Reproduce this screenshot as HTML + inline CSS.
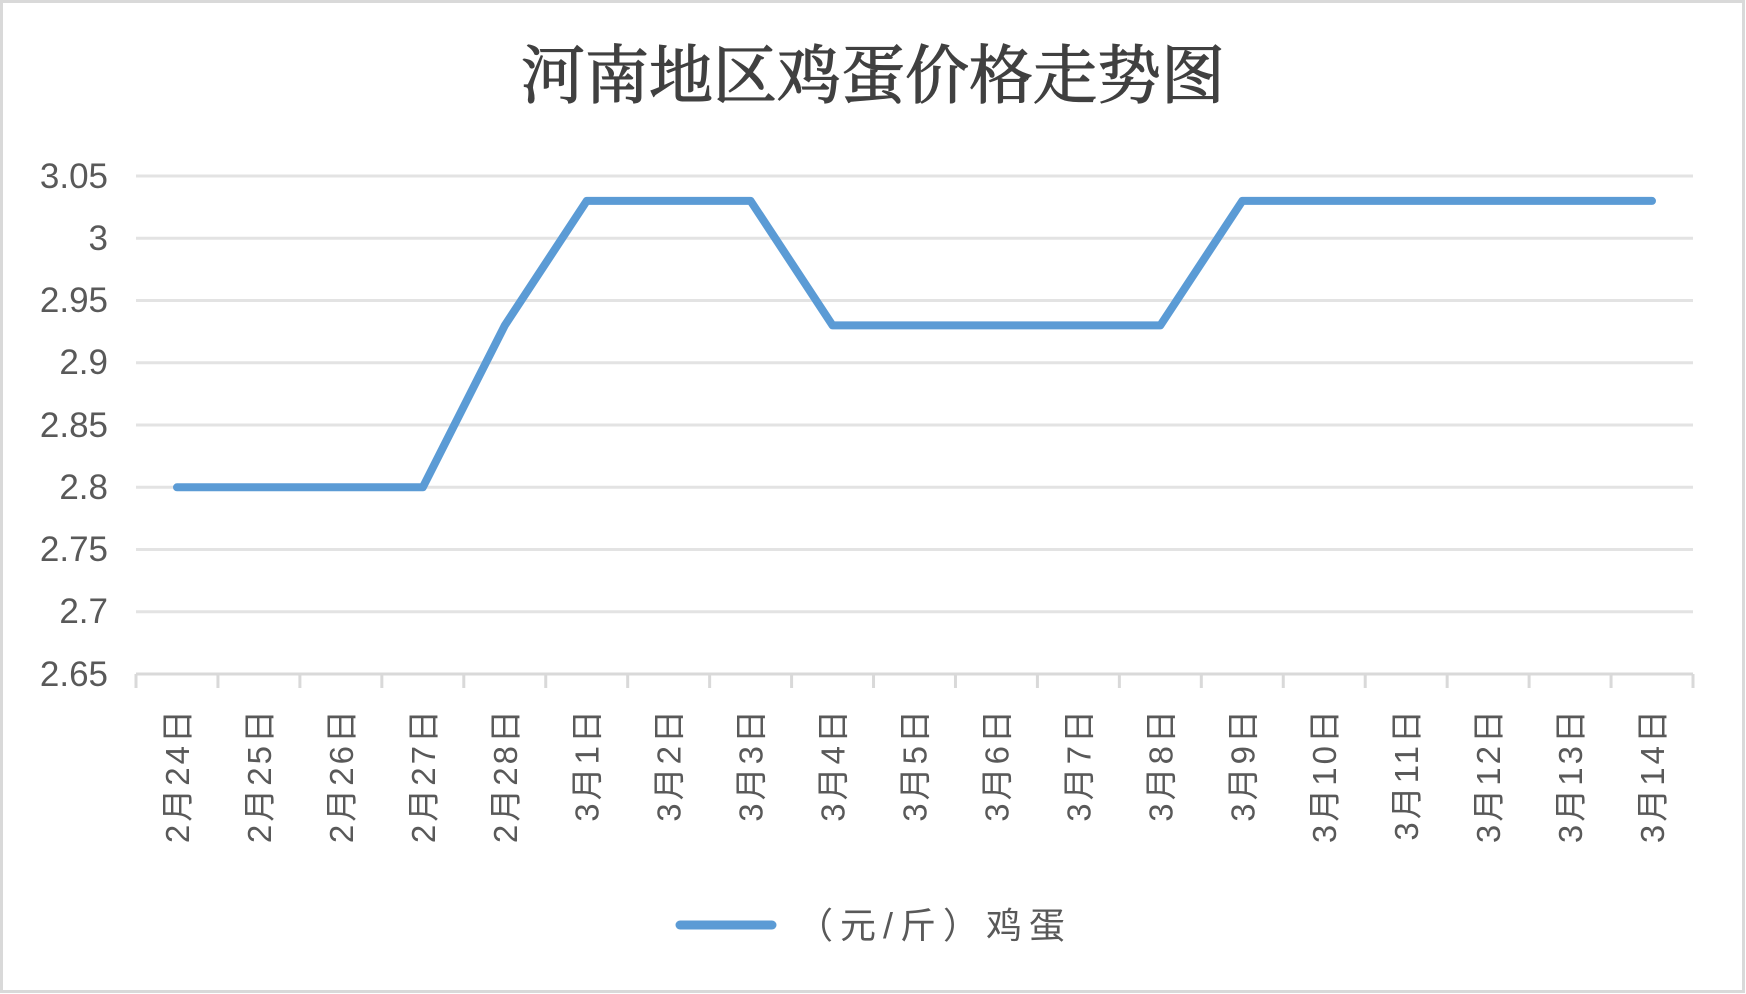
<!DOCTYPE html>
<html><head><meta charset="utf-8"><style>
html,body{margin:0;padding:0;background:#fff;}
svg{display:block;}
</style></head><body>
<svg width="1746" height="994" xmlns="http://www.w3.org/2000/svg">
<rect x="1.5" y="1.5" width="1742" height="990" fill="#fff" stroke="#d9d9d9" stroke-width="3"/>
<text x="873" y="98" text-anchor="middle" font-family="Noto Serif CJK SC, serif" font-size="64" font-weight="normal" fill="#404040" stroke="#404040" stroke-width="1.2">河南地区鸡蛋价格走势图</text>
<g stroke="#e3e3e3" stroke-width="3">
<line x1="136" y1="176" x2="1693" y2="176"/>
<line x1="136" y1="238.25" x2="1693" y2="238.25"/>
<line x1="136" y1="300.5" x2="1693" y2="300.5"/>
<line x1="136" y1="362.75" x2="1693" y2="362.75"/>
<line x1="136" y1="425" x2="1693" y2="425"/>
<line x1="136" y1="487.25" x2="1693" y2="487.25"/>
<line x1="136" y1="549.5" x2="1693" y2="549.5"/>
<line x1="136" y1="611.75" x2="1693" y2="611.75"/>
</g>
<g stroke="#d9d9d9" stroke-width="3" id="ax"></g>
<g font-family="Liberation Sans, sans-serif" font-size="35" fill="#595959" text-anchor="end">
<text x="108" y="188">3.05</text><text x="108" y="250">3</text><text x="108" y="312">2.95</text>
<text x="108" y="374">2.9</text><text x="108" y="437">2.85</text><text x="108" y="499">2.8</text>
<text x="108" y="561">2.75</text><text x="108" y="623">2.7</text><text x="108" y="686">2.65</text>
</g>
<g id="xl" font-family="Liberation Sans, Noto Sans CJK SC, sans-serif" font-size="33" fill="#595959" letter-spacing="3"></g>
<polyline fill="none" stroke="#5b9bd5" stroke-width="8" stroke-linejoin="round" stroke-linecap="round" id="ln"/>
<line x1="680" y1="925" x2="772" y2="925" stroke="#5b9bd5" stroke-width="9" stroke-linecap="round"/>
<text x="797" y="938" font-family="Liberation Sans, Noto Sans CJK SC, sans-serif" font-size="36" fill="#595959" letter-spacing="7">（元/斤）鸡蛋</text>
<script>
var ns="http://www.w3.org/2000/svg";
var ax=document.getElementById('ax');
function L(x1,y1,x2,y2){var l=document.createElementNS(ns,'line');l.setAttribute('x1',x1);l.setAttribute('y1',y1);l.setAttribute('x2',x2);l.setAttribute('y2',y2);ax.appendChild(l);}
L(136,674,1693,674);
var w=(1693-136)/19;
for(var i=0;i<=19;i++){L(136+w*i,674,136+w*i,688);}
var labs=["2月24日","2月25日","2月26日","2月27日","2月28日","3月1日","3月2日","3月3日","3月4日","3月5日","3月6日","3月7日","3月8日","3月9日","3月10日","3月11日","3月12日","3月13日","3月14日"];
var vals=[2.8,2.8,2.8,2.8,2.93,3.03,3.03,3.03,2.93,2.93,2.93,2.93,2.93,3.03,3.03,3.03,3.03,3.03,3.03];
var xl=document.getElementById('xl'),pts=[];
for(var i=0;i<19;i++){var cx=136+w*(i+0.5);
var t=document.createElementNS(ns,'text');t.setAttribute('x',0);t.setAttribute('y',0);t.setAttribute('text-anchor','end');
t.setAttribute('transform','translate('+(cx+12)+',707) rotate(-90)');t.textContent=labs[i];xl.appendChild(t);
pts.push(cx.toFixed(1)+','+(674-(vals[i]-2.65)/0.05*62.25).toFixed(1));}
document.getElementById('ln').setAttribute('points',pts.join(' '));
</script>
</svg>
</body></html>
